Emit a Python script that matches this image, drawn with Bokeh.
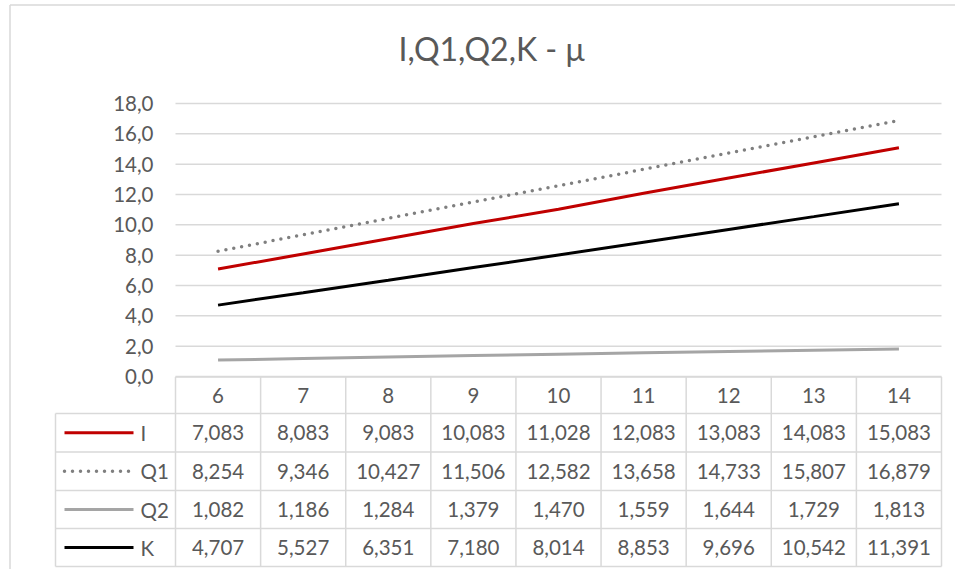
from bokeh.plotting import figure
from bokeh.models import Range1d
from bokeh.embed import file_html
from bokeh.resources import INLINE
from bokeh.core.properties import value

# ---------------- data ----------------
categories = ["6", "7", "8", "9", "10", "11", "12", "13", "14"]
series_names = ["I", "Q1", "Q2", "K"]
I_vals = [7.083, 8.083, 9.083, 10.083, 11.028, 12.083, 13.083, 14.083, 15.083]
Q1_vals = [8.254, 9.346, 10.427, 11.506, 12.582, 13.658, 14.733, 15.807, 16.879]
Q2_vals = [1.082, 1.186, 1.284, 1.379, 1.470, 1.559, 1.644, 1.729, 1.813]
K_vals = [4.707, 5.527, 6.351, 7.180, 8.014, 8.853, 9.696, 10.542, 11.391]
y_ticks = [0, 2, 4, 6, 8, 10, 12, 14, 16, 18]
title_text = "I,Q1,Q2,K - μ"

# ---------------- layout helpers (image pixel -> data) ----------------
W, H = 955, 569
OFF = 0
col_w = (941 - 175) / 9.0
x_start = -(175 - OFF) / col_w
x_end = x_start + W / col_w
py = (376 - 103) / 18.0
y_end = 18 + (103 - OFF) / py
y_start = y_end - H / py


def X(img_x):
    return x_start + (img_x - OFF) / col_w


def Y(img_y):
    return y_end - (img_y - OFF) / py


TXT = "#595959"
GRID = "#d9d9d9"
FONT = value("Lato")

p = figure(width=W, height=H, output_backend="svg", toolbar_location=None,
           x_range=Range1d(x_start, x_end), y_range=Range1d(y_start, y_end),
           min_border=0, x_axis_type=None, y_axis_type=None,
           background_fill_color="white", border_fill_color="white")
p.outline_line_color = None
p.xgrid.visible = False
p.ygrid.visible = False

# chart border (left and top)
p.segment(x0=[X(9.5), X(9.5)], y0=[Y(4.5), Y(4.5)], x1=[X(9.5), x_end],
          y1=[y_start, Y(4.5)], line_color=GRID, line_width=1.5)

# title
p.text(x=[X(491)], y=[Y(48)], text=[title_text], text_font=FONT,
       text_font_size="32px", text_color=TXT, text_align="center",
       text_baseline="middle")

# horizontal gridlines
ncat = len(categories)
p.segment(x0=[0] * len(y_ticks), x1=[ncat] * len(y_ticks), y0=y_ticks, y1=y_ticks,
          line_color=GRID, line_width=1.5)

# y tick labels
p.text(x=[X(153)] * len(y_ticks), y=y_ticks,
       text=[f"{t:.1f}".replace(".", ",") for t in y_ticks],
       text_font=FONT, text_font_size="20.5px", text_color=TXT,
       text_align="right", text_baseline="middle")

# series lines
xc = [i + 0.5 for i in range(ncat)]
styles = {
    "I": dict(line_color="#c00000", line_width=3, line_dash="solid"),
    "Q1": dict(line_color="#7f7f7f", line_width=3.5, line_dash="0 8", line_cap="round"),
    "Q2": dict(line_color="#a5a5a5", line_width=3, line_dash="solid"),
    "K": dict(line_color="#000000", line_width=3, line_dash="solid"),
}
series = {"I": I_vals, "Q1": Q1_vals, "Q2": Q2_vals, "K": K_vals}
for name in series_names:
    p.line(x=xc, y=series[name], **styles[name])

# ---------------- data table ----------------
row_edges_img = [376.5, 413, 451.5, 490, 528, 566]
row_edges = [Y(v) for v in row_edges_img]
left_edge = X(55)

# vertical lines in data columns
p.segment(x0=list(range(ncat + 1)), x1=list(range(ncat + 1)),
          y0=[row_edges[0]] * (ncat + 1), y1=[row_edges[-1]] * (ncat + 1),
          line_color=GRID, line_width=1.5)
# left column vertical line
p.segment(x0=[left_edge], x1=[left_edge], y0=[row_edges[1]], y1=[row_edges[-1]],
          line_color=GRID, line_width=1.5)
# horizontal lines
p.segment(x0=[0] + [left_edge] * (len(row_edges) - 1),
          x1=[ncat] * len(row_edges),
          y0=row_edges, y1=row_edges, line_color=GRID, line_width=1.5)

# header labels
hdr_y = (row_edges[0] + row_edges[1]) / 2
p.text(x=xc, y=[hdr_y] * ncat, text=categories, text_font=FONT,
       text_font_size="20.5px", text_color=TXT, text_align="center",
       text_baseline="middle")

# rows
for r, name in enumerate(series_names):
    yc = (row_edges[r + 1] + row_edges[r + 2]) / 2
    p.text(x=xc, y=[yc] * ncat,
           text=[f"{v:.3f}".replace(".", ",") for v in series[name]],
           text_font=FONT, text_font_size="20.5px", text_color=TXT,
           text_align="center", text_baseline="middle")
    # legend key
    p.line(x=[X(64), X(133)], y=[yc, yc], **styles[name])
    p.text(x=[X(140)], y=[yc], text=[name], text_font=FONT,
           text_font_size="20.5px", text_color=TXT, text_align="left",
           text_baseline="middle")

open("out.html", "w").write(file_html(p, INLINE))
